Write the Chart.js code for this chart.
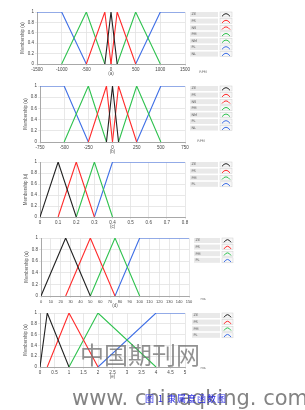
<!DOCTYPE html>
<html>
<head>
<meta charset="utf-8">
<script src="https://cdn.jsdelivr.net/npm/chart.js@4/dist/chart.umd.min.js"></script>
<style>
  html, body { margin: 0; padding: 0; background: #fff; }
  #wrap { position: relative; width: 305px; height: 410px; overflow: hidden; font-family: "DejaVu Sans", sans-serif; }
  canvas { position: absolute; left: 0; }
  .wm1 { position: absolute; left: 80px; top: 336px; font-family: "Noto Sans CJK SC"; font-size: 24px; color: rgba(110,110,110,0.75); white-space: nowrap; }
  .wm2 { position: absolute; left: 72px; top: 386px; font-family: "DejaVu Sans"; font-size: 21px; color: rgba(100,100,100,0.8); white-space: nowrap; }
  .cap { position: absolute; left: 145px; top: 392px; font-family: "Noto Sans CJK SC"; font-size: 9px; color: #2a2ae0; white-space: nowrap; letter-spacing: 1px; }
</style>
</head>
<body>
<div id="wrap">
  <canvas id="c1" width="305" height="80" style="top:0px"></canvas>
  <canvas id="c2" width="305" height="75" style="top:80px"></canvas>
  <canvas id="c3" width="305" height="78" style="top:155px"></canvas>
  <canvas id="c4" width="305" height="77" style="top:233px"></canvas>
  <canvas id="c5" width="305" height="75" style="top:308px"></canvas>
  <div class="wm1">中国期刊网</div>
  <div class="wm2">www. chinaqking. com</div>
  <div class="cap">图 1 隶属度函数图</div>
</div>
<script>
// ---------- data ----------
const colors7 = ['#222222', '#ff2b2b', '#ff2b2b', '#2fc24f', '#2fc24f', '#3f6fe6', '#3f6fe6'];
const colors4 = ['#222222', '#ff2b2b', '#2fc24f', '#3f6fe6'];

// (a) error e, RPM
const labelsA = ['ZE', 'PS', 'NS', 'PM', 'NM', 'PL', 'NL'];
const xA = [[-125, 0, 125], [0, 125, 500], [-500, -125, 0], [125, 500, 1000], [-1000, -500, -125], [500, 1000, 1500], [-1500, -1000, -500]];
const yA = [[0, 1, 0], [0, 1, 0], [0, 1, 0], [0, 1, 0], [0, 1, 0], [0, 1, 1], [1, 1, 0]];
const ticksA = [-1500, -1000, -500, 0, 500, 1000, 1500];

// (b) error change ec, RPM
const labelsB = ['ZE', 'PS', 'NS', 'PM', 'NM', 'PL', 'NL'];
const xB = [[-62.5, 0, 62.5], [0, 62.5, 250], [-250, -62.5, 0], [62.5, 250, 500], [-500, -250, -62.5], [250, 500, 750], [-750, -500, -250]];
const yB = [[0, 1, 0], [0, 1, 0], [0, 1, 0], [0, 1, 0], [0, 1, 0], [0, 1, 1], [1, 1, 0]];
const ticksB = [-750, -500, -250, 0, 250, 500, 750];

// (c)
const labelsC = ['ZE', 'PS', 'PM', 'PL'];
const xC = [[0, 0.1, 0.2], [0.1, 0.2, 0.3], [0.2, 0.3, 0.4], [0.3, 0.4, 0.8]];
const yC = [[0, 1, 0], [0, 1, 0], [0, 1, 0], [0, 1, 1]];
const ticksC = [0, 0.1, 0.2, 0.3, 0.4, 0.5, 0.6, 0.7, 0.8];

// (d)
const labelsD = ['ZE', 'PS', 'PM', 'PL'];
const xD = [[0, 25, 50], [25, 50, 75], [50, 75, 100], [75, 100, 150]];
const yD = [[0, 1, 0], [0, 1, 0], [0, 1, 0], [0, 1, 1]];
const ticksD = [0, 10, 20, 30, 40, 50, 60, 70, 80, 90, 100, 110, 120, 130, 140, 150];

// (e)
const labelsE = ['ZE', 'PS', 'PM', 'PL'];
const xE = [[0, 0.25, 1], [0.25, 1, 2], [1, 2, 4], [2, 4, 5]];
const yE = [[0, 1, 0], [0, 1, 0], [0, 1, 0], [0, 1, 1]];
const ticksE = [0, 0.5, 1, 1.5, 2, 2.5, 3, 3.5, 4, 4.5, 5];

const yTicks = [0, 0.2, 0.4, 0.6, 0.8, 1];

// ---------- legend / unit plugin ----------
const fuzzyLegend = {
  id: 'fuzzyLegend',
  afterDraw(chart, args, opts) {
    const ctx = chart.ctx;
    const ca = chart.chartArea;
    ctx.save();
    chart.data.datasets.forEach((ds, i) => {
      const cy = ca.top + 2.5 + i * 6.6;
      ctx.fillStyle = '#e9e9e9';
      ctx.fillRect(opts.lx, cy - 2.5, opts.lw, 5);
      ctx.fillStyle = '#555';
      ctx.font = '3.5px "DejaVu Sans"';
      ctx.textBaseline = 'middle';
      ctx.textAlign = 'left';
      ctx.fillText(ds.label, opts.lx + 1.5, cy);
      const ix = opts.lx + opts.lw + 2;
      ctx.fillStyle = '#f7f7f7';
      ctx.fillRect(ix, cy - 2.5, opts.iw, 5);
      ctx.strokeStyle = '#cfcfcf';
      ctx.lineWidth = 0.5;
      ctx.strokeRect(ix, cy - 2.5, opts.iw, 5);
      ctx.strokeStyle = ds.borderColor;
      ctx.lineWidth = 1;
      ctx.beginPath();
      ctx.moveTo(ix + 2, cy + 1.8);
      ctx.quadraticCurveTo(ix + opts.iw / 2, cy - 3.5, ix + opts.iw - 2, cy + 1.8);
      ctx.stroke();
    });
    if (opts.unit) {
      ctx.fillStyle = '#666';
      ctx.font = '3.5px "DejaVu Sans"';
      ctx.textAlign = 'center';
      ctx.textBaseline = 'middle';
      ctx.fillText(opts.unit, opts.ux, ca.bottom + opts.uy);
    }
    ctx.restore();
  }
};

function makeChart(id, labels, xs, ys, cols, ticks, title, layout, leg, xFont) {
  const datasets = labels.map((lab, i) => ({
    label: lab,
    data: xs[i].map((x, k) => ({ x: x, y: ys[i][k] })),
    borderColor: cols[i],
    backgroundColor: cols[i],
    borderWidth: 1.1,
    pointRadius: 0,
    fill: false,
    tension: 0
  }));
  return new Chart(document.getElementById(id), {
    type: 'line',
    data: { datasets },
    plugins: [fuzzyLegend],
    options: {
      responsive: false,
      animation: false,
      devicePixelRatio: 1,
      layout: { padding: layout },
      plugins: {
        legend: { display: false },
        tooltip: { enabled: false },
        fuzzyLegend: leg
      },
      scales: {
        x: {
          type: 'linear',
          min: ticks[0],
          max: ticks[ticks.length - 1],
          afterBuildTicks: (s) => { s.ticks = ticks.map(v => ({ value: v })); },
          afterFit: (s) => { s.height = 13; },
          ticks: { font: { size: xFont, family: 'Liberation Sans' }, color: '#444', padding: 1, maxRotation: 0, autoSkip: false, callback: (v) => String(v) },
          grid: { color: '#e2e2e2', lineWidth: 0.8, tickLength: 2 },
          border: { color: '#a8a8a8' },
          title: { display: true, text: title, font: { size: 4.5, family: 'Liberation Sans' }, color: '#555', padding: { top: 0, bottom: 1 } }
        },
        y: {
          type: 'linear',
          min: 0,
          max: 1,
          afterBuildTicks: (s) => { s.ticks = yTicks.map(v => ({ value: v })); },
          afterFit: (s) => { s.width = 18; },
          ticks: { font: { size: 4.5, family: 'Liberation Sans' }, color: '#444', padding: 1, callback: (v) => String(v) },
          grid: { color: '#e2e2e2', lineWidth: 0.8, tickLength: 2 },
          border: { color: '#a8a8a8' },
          title: { display: true, text: 'Membership (u)', font: { size: 4.5, family: 'Liberation Sans' }, color: '#555', padding: { top: 1, bottom: 0 } }
        }
      }
    }
  });
}

makeChart('c1', labelsA, xA, yA, colors7, ticksA, '(a)', { left: 19, right: 120, top: 12, bottom: 3 }, { lx: 190, lw: 28, iw: 12, unit: 'RPM', ux: 203, uy: 8 }, 4.5);
makeChart('c2', labelsB, xB, yB, colors7, ticksB, '(b)', { left: 22, right: 120, top: 6, bottom: 0 }, { lx: 190, lw: 28, iw: 12, unit: 'RPM', ux: 201, uy: -1 }, 4.5);
makeChart('c3', labelsC, xC, yC, colors4, ticksC, '(c)', { left: 22, right: 120, top: 7, bottom: 3 }, { lx: 190, lw: 28, iw: 12, unit: '', ux: 0, uy: 0 }, 4.5);
makeChart('c4', labelsD, xD, yD, colors4, ticksD, '(d)', { left: 23, right: 116, top: 5, bottom: 1 }, { lx: 194, lw: 26, iw: 11, unit: 'ms', ux: 203, uy: 3 }, 4);
makeChart('c5', labelsE, xE, yE, colors4, ticksE, '(e)', { left: 22, right: 120, top: 5, bottom: 3 }, { lx: 192, lw: 28, iw: 11, unit: 'ms', ux: 203, uy: 1 }, 4.5);
</script>
</body>
</html>
